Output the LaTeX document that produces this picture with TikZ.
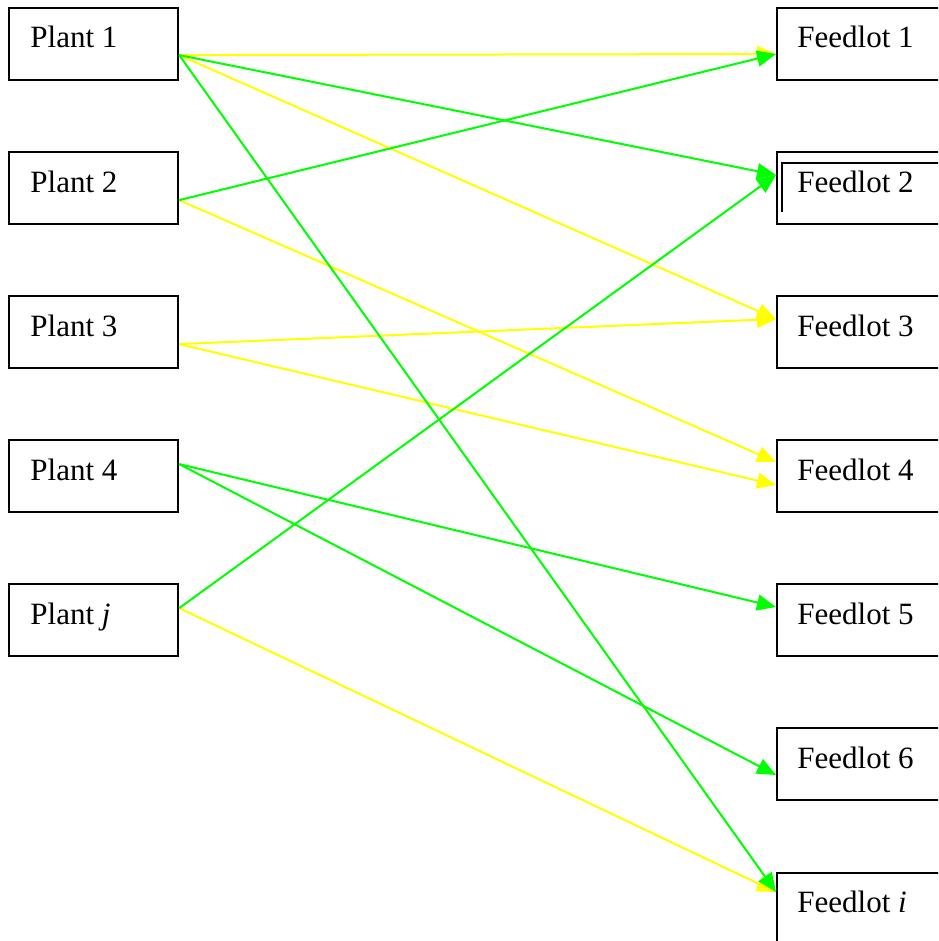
\documentclass[tikz,border=0pt]{standalone}
\usepackage{fontspec}
\setmainfont{Liberation Serif}
\usetikzlibrary{arrows.meta,calc}
\definecolor{flowyellow}{RGB}{255,255,0}
\definecolor{flowgreen}{RGB}{0,255,0}
\begin{document}
\begin{tikzpicture}[x=0.5pt,y=-0.5pt,
  box/.style={draw=black, line width=1.1pt, rectangle, minimum width=84.5pt,
    minimum height=36pt, anchor=north west, inner sep=0pt},
  fbox/.style={box, minimum width=90pt},
  lbl/.style={anchor=base west, inner sep=0pt, font=\fontsize{15.5pt}{18pt}\selectfont},
  flow/.style={line width=1pt, -{Triangle[length=9.5pt,width=8pt]}},
  yflow/.style={flow, draw=flowyellow},
  gflow/.style={flow, draw=flowgreen}]
\useasboundingbox (0,0) rectangle (938,941);
\clip (0,0) rectangle (938,941);

% plants (left column)
\node[box] (p1) at (8,7)   {};
\node[box] (p2) at (8,151) {};
\node[box] (p3) at (8,295) {};
\node[box] (p4) at (8,439) {};
\node[box] (pj) at (8,583) {};
\node[lbl] (tp1) at ($(p1.north west)+(22,41)$) {Plant 1};
\node[lbl] (tp2) at ($(p2.north west)+(22,41)$) {Plant 2};
\node[lbl] (tp3) at ($(p3.north west)+(22,41)$) {Plant 3};
\node[lbl] (tp4) at ($(p4.north west)+(22,41)$) {Plant 4};
\node[lbl] (tpj) at ($(pj.north west)+(22,41)$) {Plant \textit{j}};

% feedlots (right column, running past the page edge)
\node[fbox] (f1) at (776,7)   {};
\node[fbox] (f2) at (776,151) {};
\node[fbox] (f3) at (776,295) {};
\node[fbox] (f4) at (776,439) {};
\node[fbox] (f5) at (776,583) {};
\node[fbox] (f6) at (776,727) {};
\node[fbox] (fi) at (776,872) {};
\draw[line width=1.1pt] ($(f2.north west)+(6,61)$) |- ($(f2.north west)+(200,12)$);
\node[lbl] (tf1) at ($(f1.north west)+(21,41)$) {Feedlot 1};
\node[lbl] (tf2) at ($(f2.north west)+(21,41)$) {Feedlot 2};
\node[lbl] (tf3) at ($(f3.north west)+(21,41)$) {Feedlot 3};
\node[lbl] (tf4) at ($(f4.north west)+(21,41)$) {Feedlot 4};
\node[lbl] (tf5) at ($(f5.north west)+(21,41)$) {Feedlot 5};
\node[lbl] (tf6) at ($(f6.north west)+(21,41)$) {Feedlot 6};
\node[lbl] (tfi) at ($(fi.north west)+(21,40)$) {Feedlot \textit{i}};

% exit points on the plants
\coordinate (o1) at ($(p1.east)+(0,11)$);
\coordinate (o2) at ($(p2.east)+(0,12)$);
\coordinate (o3) at ($(p3.east)+(0,12)$);
\coordinate (o4) at ($(p4.east)+(0,-12)$);
\coordinate (oj) at ($(pj.east)+(0,-12)$);
% entry points on the feedlots
\coordinate (e1)  at ($(f1.north west)+(0,47)$);
\coordinate (e2)  at ($(f2.north west)+(0,24)$);
\coordinate (e3)  at ($(f3.north west)+(0,24)$);
\coordinate (e4a) at ($(f4.north west)+(0,23)$);
\coordinate (e4b) at ($(f4.north west)+(0,46)$);
\coordinate (e5)  at ($(f5.north west)+(0,24)$);
\coordinate (e6)  at ($(f6.north west)+(0,48)$);
\coordinate (ei)  at ($(fi.north west)+(0,20)$);

% yellow shipments
\draw[yflow] (o1) -- (e1);
\draw[yflow] (o1) -- (e3);
\draw[yflow] (o2) -- (e4a);
\draw[yflow] (o3) -- (e3);
\draw[yflow] (o3) -- (e4b);
\draw[yflow] (oj) -- (ei);
% green shipments
\draw[gflow] (o1) -- (e2);
\draw[gflow] (o1) -- (ei);
\draw[gflow] (o2) -- (e1);
\draw[gflow] (o4) -- (e5);
\draw[gflow] (o4) -- (e6);
\draw[gflow] (oj) -- (e2);
\end{tikzpicture}
\end{document}
